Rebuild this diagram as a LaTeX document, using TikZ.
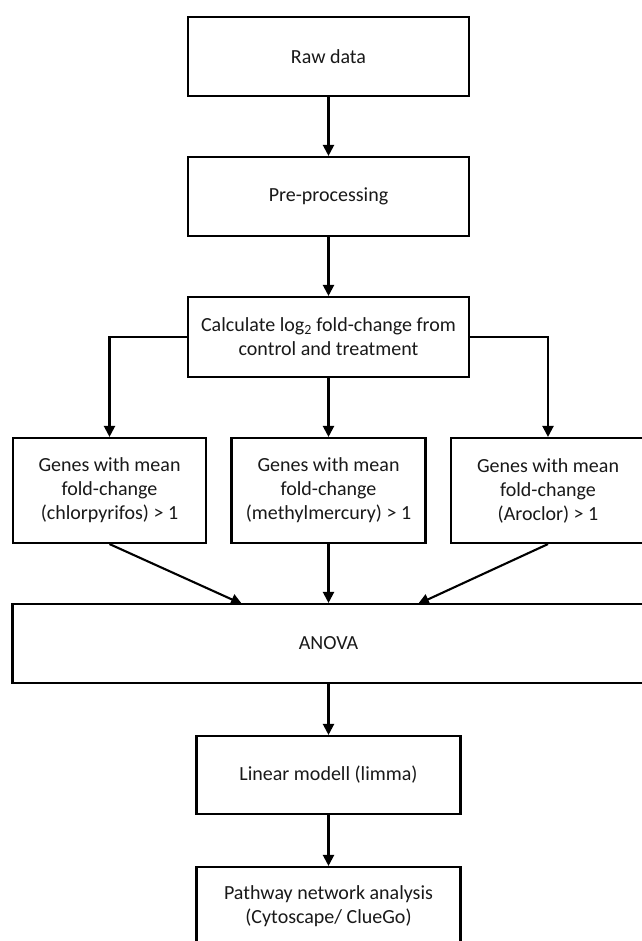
\documentclass[tikz,border=0pt]{standalone}
\usepackage{fontspec}
\setmainfont{Carlito}
\usetikzlibrary{arrows.meta}
\begin{document}
\begin{tikzpicture}[x=1pt,y=-1pt,
  box/.style={draw=black, line width=2.1pt, fill=white, inner sep=0pt, align=center,
    font=\fontsize{20}{24}\selectfont, text=black!90},
  arr/.style={line width=2.1pt, -{Triangle[length=11pt,width=11pt]}}]
\useasboundingbox (0,0) rectangle (641,941);
\node[box, minimum width=281pt, minimum height=79pt] (raw) at (328.5,56.5) {Raw data};
\node[box, minimum width=281pt, minimum height=79pt] (pre) at (328.5,196.5) {Pre-processing};
\node[box, minimum width=281pt, minimum height=80pt] (calc) at (328.5,337) {Calculate log\textsubscript{2} fold-change from\\control and treatment};
\node[box, minimum width=193pt, minimum height=105pt] (g1) at (109.5,490.5) {Genes with mean\\fold-change\\(chlorpyrifos) > 1};
\node[box, minimum width=194pt, minimum height=105pt] (g2) at (328.5,490.5) {Genes with mean\\fold-change\\(methylmercury) > 1};
\node[box, minimum width=194pt, minimum height=105pt] (g3) at (548,490.5) {Genes with mean\\fold-change\\(Aroclor) > 1};
\node[box, minimum width=632pt, minimum height=79pt] (anova) at (328.5,643.5) {ANOVA};
\node[box, minimum width=264pt, minimum height=78pt] (lin) at (328.5,775) {Linear modell (limma)};
\node[box, minimum width=264pt, minimum height=78pt] (path) at (328.5,906) {Pathway network analysis\\(Cytoscape/ ClueGo)};
\coordinate (a1) at (242,604);
\coordinate (a3) at (418,604);
\draw[arr] (raw) -- (pre);
\draw[arr] (pre) -- (calc);
\draw[arr] (calc.west) -| (g1.north);
\draw[arr] (calc) -- (g2);
\draw[arr] (calc.east) -| (g3.north);
\draw[arr] (g1.south) -- (a1);
\draw[arr] (g2) -- (anova);
\draw[arr] (g3.south) -- (a3);
\draw[arr] (anova) -- (lin);
\draw[arr] (lin) -- (path);
\end{tikzpicture}
\end{document}
